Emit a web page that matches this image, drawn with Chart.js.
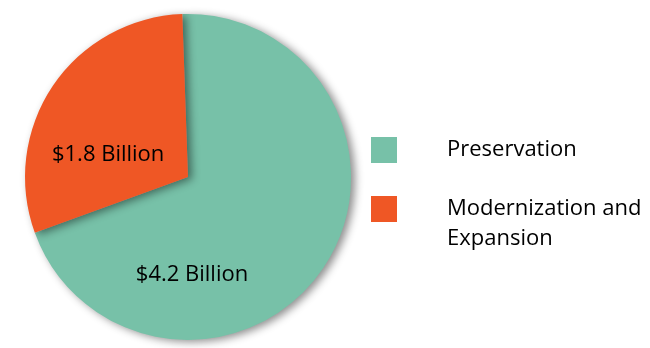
<!DOCTYPE html>
<html lang="en">
<head>
<meta charset="UTF-8" />
<title>Funding Split</title>
<script src="https://cdn.jsdelivr.net/npm/chart.js"></script>
<style>
    html, body { margin: 0; padding: 0; background: #ffffff; }
    .wrap { position: relative; width: 650px; height: 348px; }
</style>
</head>
<body>
<div class="wrap"><canvas id="pie" width="650" height="348"></canvas></div>
<script>
    // Funding amounts in billions of dollars
    const categories = ["Preservation", "Modernization and Expansion"];
    const legendLines = [["Preservation"], ["Modernization and", "Expansion"]];
    const amounts = [4.2, 1.8];
    const sliceLabels = ["$4.2 Billion", "$1.8 Billion"];
    const colors = ["#77c1a8", "#ef5725"];

    const FONT = '"Open Sans", sans-serif';

    // soft drop shadow under the pie
    const shadowPlugin = {
        id: "pieShadow",
        beforeDatasetsDraw(chart) {
            const ctx = chart.ctx;
            ctx.save();
            ctx.shadowColor = "rgba(0,0,0,0.45)";
            ctx.shadowBlur = 8;
            ctx.shadowOffsetX = 4;
            ctx.shadowOffsetY = 2;
        },
        afterDatasetsDraw(chart) {
            chart.ctx.restore();
        }
    };

    // amount text inside each slice
    const sliceTextPlugin = {
        id: "sliceText",
        afterDatasetsDraw(chart) {
            const ctx = chart.ctx;
            const meta = chart.getDatasetMeta(0);
            ctx.save();
            ctx.font = "22px " + FONT;
            ctx.fillStyle = "#000";
            ctx.textAlign = "center";
            ctx.textBaseline = "middle";
            meta.data.forEach((arc, i) => {
                const r = arc.outerRadius;
                const pos = [
                    { x: arc.x + 4, y: arc.y + r * 0.6 },
                    { x: arc.x - r * 0.49, y: arc.y - r * 0.135 }
                ][i];
                ctx.fillText(sliceLabels[i], pos.x, pos.y);
            });
            ctx.restore();
        }
    };

    // legend with square swatches on the right
    const legendPlugin = {
        id: "sideLegend",
        afterDraw(chart) {
            const ctx = chart.ctx;
            const x0 = 371, boxSize = 26, textX = 447;
            const rowTops = [137, 196];
            ctx.save();
            ctx.font = "22px " + FONT;
            ctx.textBaseline = "middle";
            legendLines.forEach((lines, i) => {
                ctx.fillStyle = colors[i];
                ctx.fillRect(x0, rowTops[i], boxSize, boxSize);
                ctx.fillStyle = "#000";
                lines.forEach((t, j) => {
                    ctx.fillText(t, textX, rowTops[i] + boxSize / 2 + j * 30);
                });
            });
            ctx.restore();
        }
    };

    new Chart(document.getElementById("pie"), {
        type: "pie",
        data: {
            labels: categories,
            datasets: [{
                data: amounts,
                backgroundColor: colors,
                borderWidth: 0
            }]
        },
        options: {
            responsive: false,
            animation: false,
            rotation: -2,
            layout: { padding: { left: 25, top: 14, bottom: 8, right: 299 } },
            plugins: {
                legend: { display: false },
                tooltip: { enabled: false }
            }
        },
        plugins: [shadowPlugin, sliceTextPlugin, legendPlugin]
    });
</script>
</body>
</html>
